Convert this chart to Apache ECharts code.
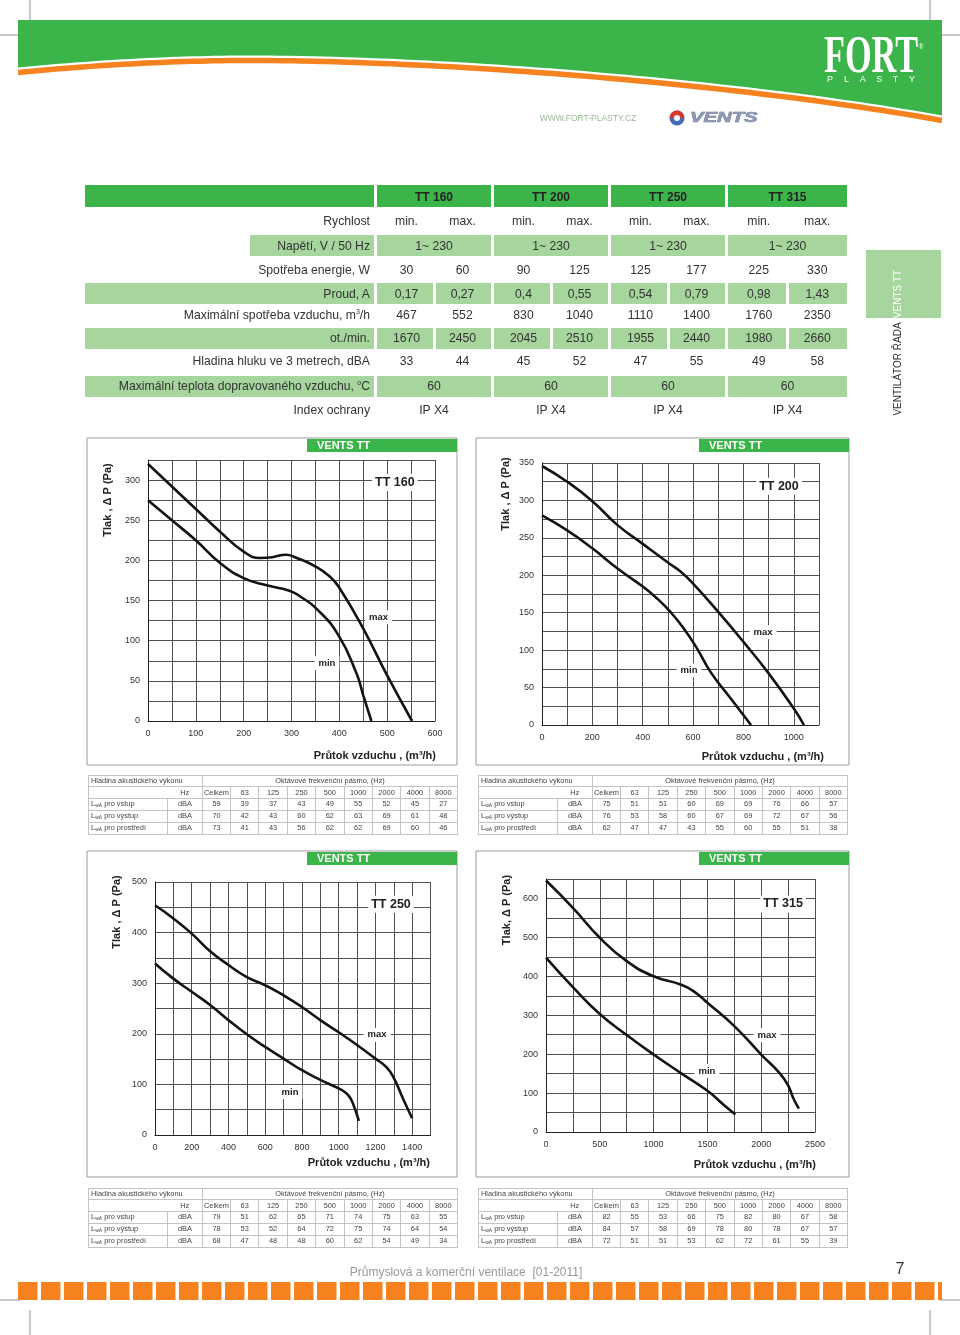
<!DOCTYPE html>
<html>
<head>
<meta charset="utf-8">
<script src="https://cdn.jsdelivr.net/npm/echarts@6/dist/echarts.min.js"></script>
<style>
body{margin:0;background:#fff;}
#page{position:relative;width:960px;height:1335px;overflow:hidden;font-family:'Liberation Sans',Arial,sans-serif;}
#chart{position:absolute;left:0;top:0;width:960px;height:1335px;}
#overlay{position:absolute;left:0;top:0;width:960px;height:1335px;z-index:2;}
.t{position:absolute;white-space:nowrap;color:#333;line-height:1;font-size:12.2px;
   font-family:'Liberation Sans Narrow','Arial Narrow','Liberation Sans',sans-serif;}
.t sup{font-size:7px;vertical-align:5px;}
.b{font-weight:bold;color:#222;font-family:'Liberation Sans',Arial,sans-serif;font-size:12px;}
.ac{position:absolute;border-collapse:collapse;table-layout:fixed;width:369px;
    font:7.4px 'Liberation Sans',Arial,sans-serif;color:#444;border:1px solid #999;}
.ac td{border:1px solid #c4c4c4;height:10.4px;padding:0;line-height:10px;text-align:center;white-space:nowrap;overflow:hidden;}
.ac td.l{text-align:left;padding-left:2px;}
.ac sub{font-size:5px;vertical-align:-1px;}
</style>
</head>
<body>
<div id="page"><div id="chart"></div><div id="overlay"></div></div>
<script>
// ---- spec table ----
const models = ['TT 160', 'TT 200', 'TT 250', 'TT 315'];
const speeds = ['min.', 'max.'];
const voltage = ['1~ 230', '1~ 230', '1~ 230', '1~ 230'];
const power = [30, 60, 90, 125, 125, 177, 225, 330];
const current = ['0,17', '0,27', '0,4', '0,55', '0,54', '0,79', '0,98', '1,43'];
const airflow = [467, 552, 830, 1040, 1110, 1400, 1760, 2350];
const rpm = [1670, 2450, 2045, 2510, 1955, 2440, 1980, 2660];
const noise = [33, 44, 45, 52, 47, 55, 49, 58];
const maxTemp = [60, 60, 60, 60];
const protection = ['IP X4', 'IP X4', 'IP X4', 'IP X4'];
const specLabels = ['Rychlost', 'Napětí, V / 50 Hz', 'Spotřeba energie, W', 'Proud, A',
  'Maximální spotřeba vzduchu, m<sup>3</sup>/h', 'ot./min.', 'Hladina hluku ve 3 metrech, dBA',
  'Maximální teplota dopravovaného vzduchu, <sup>o</sup>C', 'Index ochrany'];

// ---- fan curves, [m3/h, Pa] ----
const tt160Max = [[0,320],[50,292],[100,264],[150,236],[200,211],[234,203],[260,204],[288,207],[311,203],[345,194],[380,180],[401,165],[450,115],[498,59],[552,0]];
const tt160Min = [[0,275],[50,250],[100,225],[150,197],[200,178],[248,169],[297,162],[318,155],[352,140],[398,107],[436,59],[450,32],[467,0]];
const tt200Max = [[0,346],[100,325],[200,299],[300,267],[400,242],[500,217],[550,205],[600,189],[700,151],[800,111],[900,69],[1000,22],[1040,0]];
const tt200Min = [[0,280],[100,260],[200,236],[300,209],[400,185],[457,169],[510,151],[563,129],[616,102],[669,71],[748,36],[830,0]];
const tt250Max = [[0,454],[100,428],[200,398],[300,363],[400,336],[500,312],[600,296],[700,276],[800,253],[900,227],[1000,203],[1100,178],[1200,151],[1260,134],[1300,113],[1350,72],[1400,33]];
const tt250Min = [[0,339],[100,309],[200,283],[300,257],[400,227],[500,199],[600,174],[700,151],[800,128],[900,109],[1000,92],[1040,83],[1065,72],[1085,55],[1110,28]];
const tt315Max = [[0,646],[250,576],[500,499],[750,439],[1000,400],[1250,379],[1370,362],[1500,332],[1750,272],[2000,199],[2175,150],[2250,120],[2300,86],[2350,60]];
const tt315Min = [[0,448],[250,372],[500,303],[750,249],[1000,199],[1250,152],[1500,106],[1650,70],[1760,45]];

// ---- acoustic power tables ----
const bands = ['Celkem', '63', '125', '250', '500', '1000', '2000', '4000', '8000'];
const ac160In = [59,39,37,43,49,55,52,45,27], ac160Out = [70,42,43,60,62,63,69,61,48], ac160Env = [73,41,43,56,62,62,69,60,46];
const ac200In = [75,51,51,60,69,69,76,66,57], ac200Out = [76,53,58,60,67,69,72,67,56], ac200Env = [62,47,47,43,55,60,55,51,38];
const ac250In = [79,51,62,65,71,74,75,63,55], ac250Out = [78,53,52,64,72,75,74,64,54], ac250Env = [68,47,48,48,60,62,54,49,34];
const ac315In = [82,55,53,66,75,82,80,67,58], ac315Out = [84,57,58,69,78,80,78,67,57], ac315Env = [72,51,51,53,62,72,61,55,39];

const GREEN = '#3BB44A', LIGHT = '#A6D59D', ORANGE = '#F5821F';
const NARROW = "'Liberation Sans Narrow','Arial Narrow','Liberation Sans'";

// ---------- html overlay: spec table ----------
const ov = document.getElementById('overlay');
function rect(x, y, w, h, c) {
  const d = document.createElement('div');
  d.style.cssText = `position:absolute;left:${x}px;top:${y}px;width:${w}px;height:${h}px;background:${c}`;
  ov.appendChild(d);
}
function txt(x, y, html, align, cls) {
  const d = document.createElement('div');
  d.className = 't ' + (cls || '');
  d.innerHTML = html;
  const tx = align === 'right' ? '-100%' : '-50%';
  d.style.left = x + 'px';
  d.style.top = y + 'px';
  d.style.transform = `translate(${tx},-50%)`;
  ov.appendChild(d);
  return d;
}

const modelX = [[377,491],[494,608],[611,725],[728,847]];
const rowY = [221, 245.5, 270, 293.5, 315, 338, 361, 386, 410];
rect(85, 185, 289, 22, GREEN);
models.forEach((m, i) => {
  rect(modelX[i][0], 185, modelX[i][1] - modelX[i][0], 22, GREEN);
  txt((modelX[i][0] + modelX[i][1]) / 2, 196.5, m, 'center', 'b');
});
const rows = [
  {split: models.flatMap(() => speeds)},
  {merged: voltage, green: 250},
  {split: power},
  {split: current, green: 85},
  {split: airflow},
  {split: rpm, green: 85},
  {split: noise},
  {merged: maxTemp, green: 85},
  {merged: protection}
];
rows.forEach((r, k) => {
  const y = rowY[k];
  if (r.green !== undefined) rect(r.green, y - 10.5, 374 - r.green, 21, LIGHT);
  txt(370, y, specLabels[k], 'right');
  modelX.forEach(([a, b], i) => {
    const mid = (a + b) / 2;
    if (r.merged) {
      if (r.green !== undefined) rect(a, y - 10.5, b - a, 21, LIGHT);
      txt(mid, y, String(r.merged[i]), 'center');
    } else {
      if (r.green !== undefined) {
        rect(a, y - 10.5, mid - 1.5 - a, 21, LIGHT);
        rect(mid + 1.5, y - 10.5, b - mid - 1.5, 21, LIGHT);
      }
      txt((a + mid) / 2 + 1, y, String(r.split[2 * i]), 'center');
      txt((mid + b) / 2, y, String(r.split[2 * i + 1]), 'center');
    }
  });
});

// ---------- html overlay: acoustic tables ----------
function acoustic(x, y, vin, vout, venv) {
  const t = document.createElement('table');
  t.className = 'ac';
  t.style.left = x + 'px';
  t.style.top = y + 'px';
  let h = '<colgroup><col style="width:79px"><col style="width:35px"><col style="width:28px">';
  for (let i = 0; i < 8; i++) h += '<col style="width:28.375px">';
  h += '</colgroup>';
  h += '<tr><td class="l" colspan="2">Hladina akustického výkonu</td><td colspan="9" style="border-bottom:1px solid #c4c4c4">Oktávové frekvenční pásmo, (Hz)</td></tr>';
  h += '<tr><td style="border-right:none"></td><td style="border-left:none">Hz</td>' + bands.map(b => `<td>${b}</td>`).join('') + '</tr>';
  [['pro vstup', vin], ['pro výstup', vout], ['pro prostředí', venv]].forEach(([n, v]) => {
    h += `<tr><td class="l">L<sub>wA</sub> ${n}</td><td>dBA</td>` + v.map(a => `<td>${a}</td>`).join('') + '</tr>';
  });
  t.innerHTML = h;
  ov.appendChild(t);
}
acoustic(88, 775, ac160In, ac160Out, ac160Env);
acoustic(478, 775, ac200In, ac200Out, ac200Env);
acoustic(88, 1188, ac250In, ac250Out, ac250Env);
acoustic(478, 1188, ac315In, ac315Out, ac315Env);

// ---------- charts ----------
const plots = [
  {title: 'TT 160', hi: tt160Max, lo: tt160Min, xMax: 600, xStep: 50, xLab: 100, yMax: 325, yStep: 25, yLab: 50,
   grid: {left: 148, top: 460, width: 287, height: 261}, maxAt: [482, 129], minAt: [374, 72], titleAt: [516, 297],
   frame: [87, 438, 370, 327], yName: 'Tlak , Δ P (Pa)', yNameAt: [108, 500], xNameAt: [436, 756]},
  {title: 'TT 200', hi: tt200Max, lo: tt200Min, xMax: 1100, xStep: 100, xLab: 200, yMax: 350, yStep: 25, yLab: 50,
   grid: {left: 542, top: 463, width: 277, height: 262}, maxAt: [878, 124], minAt: [584, 73], titleAt: [941, 319],
   frame: [476, 438, 373, 327], yName: 'Tlak , Δ P (Pa)', yNameAt: [506, 494], xNameAt: [824, 757]},
  {title: 'TT 250', hi: tt250Max, lo: tt250Min, xMax: 1500, xStep: 100, xLab: 200, yMax: 500, yStep: 50, yLab: 100,
   grid: {left: 155, top: 882, width: 275.5, height: 253}, maxAt: [1209, 198], minAt: [735, 85], titleAt: [1285, 456],
   frame: [87, 851, 370, 326], yName: 'Tlak , Δ P (Pa)', yNameAt: [117, 912], xNameAt: [430, 1163]},
  {title: 'TT 315', hi: tt315Max, lo: tt315Min, xMax: 2500, xStep: 250, xLab: 500, yMax: 650, yStep: 50, yLab: 100,
   grid: {left: 546, top: 879, width: 269, height: 253}, maxAt: [2054, 249], minAt: [1496, 157], titleAt: [2203, 586],
   frame: [476, 851, 373, 326], yName: 'Tlak, Δ P (Pa)', yNameAt: [507, 910], xNameAt: [816, 1165]}
];

const tagLabel = {
  show: true, position: 'inside', formatter: '{b}', color: '#222', fontWeight: 'bold',
  fontSize: 9.5, fontFamily: 'Liberation Sans', backgroundColor: '#fff', padding: [2, 4]
};
function curve(i, data, marks) {
  return {
    type: 'line', xAxisIndex: i, yAxisIndex: i, data: data, smooth: 0.5,
    showSymbol: false, symbol: 'none', silent: true,
    lineStyle: {color: '#141414', width: 2.6},
    markPoint: {symbol: 'rect', symbolSize: 1, itemStyle: {color: 'rgba(0,0,0,0)'}, label: tagLabel, data: marks}
  };
}

const grids = [], xAxes = [], yAxes = [], series = [];
const graphics = [];
plots.forEach((p, i) => {
  grids.push(Object.assign({containLabel: false}, p.grid));
  xAxes.push({
    gridIndex: i, type: 'value', min: 0, max: p.xMax, interval: p.xStep,
    axisLine: {show: true, onZero: false, lineStyle: {color: '#222', width: 1}},
    axisTick: {show: false},
    splitLine: {show: true, lineStyle: {color: '#505050', width: 1}},
    axisLabel: {fontSize: 9, color: '#333', margin: 8, fontFamily: 'Liberation Sans',
      formatter: v => (v % p.xLab === 0 ? String(v) : '')}
  });
  yAxes.push({
    gridIndex: i, type: 'value', min: 0, max: p.yMax, interval: p.yStep,
    axisLine: {show: true, onZero: false, lineStyle: {color: '#222', width: 1}},
    axisTick: {show: false},
    splitLine: {show: true, lineStyle: {color: '#505050', width: 1}},
    axisLabel: {fontSize: 9, color: '#333', margin: 8, fontFamily: 'Liberation Sans',
      formatter: v => (v % p.yLab === 0 ? String(v) : '')}
  });
  series.push(curve(i, p.hi, [
    {name: 'max', coord: p.maxAt},
    {name: p.title, coord: p.titleAt, label: {fontSize: 12.5, padding: [2, 3]}}
  ]));
  series.push(curve(i, p.lo, [{name: 'min', coord: p.minAt}]));

  const [fx, fy, fw, fh] = p.frame;
  graphics.push({type: 'rect', shape: {x: fx, y: fy, width: fw, height: fh}, style: {fill: null, stroke: '#9a9a9a', lineWidth: 1}});
  graphics.push({type: 'rect', shape: {x: fx + fw - 150, y: fy + 1, width: 150, height: 13}, style: {fill: GREEN}});
  graphics.push({type: 'text', x: fx + fw - 140, y: fy + 7.5,
    style: {text: 'VENTS TT', fill: '#fff', font: 'bold 11px "Liberation Sans"', textAlign: 'left', textVerticalAlign: 'middle'}});
  graphics.push({type: 'text', x: p.yNameAt[0], y: p.yNameAt[1], rotation: Math.PI / 2,
    style: {text: p.yName, fill: '#222', font: 'bold 11px "Liberation Sans"', textAlign: 'center', textVerticalAlign: 'middle'}});
  graphics.push({type: 'text', x: p.xNameAt[0], y: p.xNameAt[1],
    style: {text: 'Průtok vzduchu , (m³/h)', fill: '#222', font: 'bold 11px "Liberation Sans"', textAlign: 'right', textVerticalAlign: 'middle'}});
});

// page decoration: crop marks, header band, logos, side tab, footer
const crop = [[30,0,30,22],[930,0,930,22],[0,35,18,35],[942,35,960,35],
              [0,1300,20,1300],[940,1300,960,1300],[30,1310,30,1335],[930,1310,930,1335]];
crop.forEach(c => graphics.push({type: 'line', shape: {x1: c[0], y1: c[1], x2: c[2], y2: c[3]}, style: {stroke: '#777', lineWidth: 0.8}}));

// header swoosh: two cubic segments sampled into polygon / polyline points
function cubic(p0, p1, p2, p3, n) {
  const out = [];
  for (let k = 0; k <= n; k++) {
    const t = k / n, u = 1 - t;
    out.push([u*u*u*p0[0] + 3*u*u*t*p1[0] + 3*u*t*t*p2[0] + t*t*t*p3[0],
              u*u*u*p0[1] + 3*u*u*t*p1[1] + 3*u*t*t*p2[1] + t*t*t*p3[1]]);
  }
  return out;
}
function swoosh(dy) {
  return cubic([18,72+dy],[100,64+dy],[180,60+dy],[250,60+dy],30)
    .concat(cubic([250,60+dy],[450,60+dy],[750,85+dy],[942,120+dy],60).slice(1));
}
const greenEdge = swoosh(-4.5);
graphics.push({type: 'polygon', shape: {points: [[18,20],[942,20]].concat(greenEdge.slice().reverse())}, style: {fill: GREEN}});
graphics.push({type: 'polyline', shape: {points: swoosh(0.5)}, style: {stroke: ORANGE, lineWidth: 5.5, fill: null}});

graphics.push({type: 'text', x: 871, y: 59, scaleX: 0.66,
  style: {text: 'FORT', fill: '#fff', font: 'bold 52px "Liberation Serif"', textAlign: 'center', textVerticalAlign: 'middle',
          shadowColor: 'rgba(0,0,0,0.35)', shadowOffsetX: 1, shadowOffsetY: 1}});
graphics.push({type: 'text', x: 921, y: 47, style: {text: '®', fill: '#fff', font: '7px "Liberation Sans"', textAlign: 'center', textVerticalAlign: 'middle'}});
'PLASTY'.split('').forEach((ch, k) => graphics.push({type: 'text', x: 830 + k * 16.4, y: 80,
  style: {text: ch, fill: '#fff', font: '9px "Liberation Sans"', textAlign: 'center', textVerticalAlign: 'middle'}}));
graphics.push({type: 'text', x: 588, y: 119, style: {text: 'WWW.FORT-PLASTY.CZ', fill: '#94bb90', font: '8.5px ' + NARROW, textAlign: 'center', textVerticalAlign: 'middle'}});
graphics.push({type: 'circle', shape: {cx: 677, cy: 118, r: 7.5}, style: {fill: '#3f6fb5'}});
graphics.push({type: 'sector', shape: {cx: 677, cy: 118, r: 7.5, r0: 0, startAngle: Math.PI, endAngle: 2 * Math.PI}, style: {fill: '#d8362e'}});
graphics.push({type: 'circle', shape: {cx: 677, cy: 118, r: 3}, style: {fill: '#fff'}});
graphics.push({type: 'text', x: 690, y: 118, scaleX: 1.35,
  style: {text: 'VENTS', fill: '#8e9ab4', stroke: '#56698f', lineWidth: 0.6, font: 'italic bold 15px "Liberation Sans"', textAlign: 'left', textVerticalAlign: 'middle'}});
graphics.push({type: 'rect', shape: {x: 866, y: 250, width: 75, height: 68}, style: {fill: LIGHT}});
graphics.push({type: 'text', x: 898, y: 294, rotation: Math.PI / 2,
  style: {text: 'VENTS TT', fill: '#fff', font: '10px ' + NARROW, textAlign: 'center', textVerticalAlign: 'middle'}});
graphics.push({type: 'text', x: 898, y: 369, rotation: Math.PI / 2,
  style: {text: 'VENTILÁTOR ŘADA', fill: '#333', font: '10px ' + NARROW, textAlign: 'center', textVerticalAlign: 'middle'}});
for (let x = 18; x < 942; x += 23) {
  graphics.push({type: 'rect', shape: {x: x, y: 1282, width: Math.min(19.5, 942 - x), height: 18}, style: {fill: ORANGE}});
}
graphics.push({type: 'text', x: 466, y: 1273,
  style: {text: 'Průmyslová a komerční ventilace  [01-2011]', fill: '#9a9a9a', font: '12px ' + NARROW, textAlign: 'center', textVerticalAlign: 'middle'}});
graphics.push({type: 'text', x: 900, y: 1270, style: {text: '7', fill: '#333', font: '16px "Liberation Sans"', textAlign: 'center', textVerticalAlign: 'middle'}});

const chart = echarts.init(document.getElementById('chart'));
chart.setOption({
  animation: false,
  backgroundColor: '#fff',
  grid: grids,
  xAxis: xAxes,
  yAxis: yAxes,
  series: series,
  graphic: {elements: graphics}
});
</script>
</body>
</html>
